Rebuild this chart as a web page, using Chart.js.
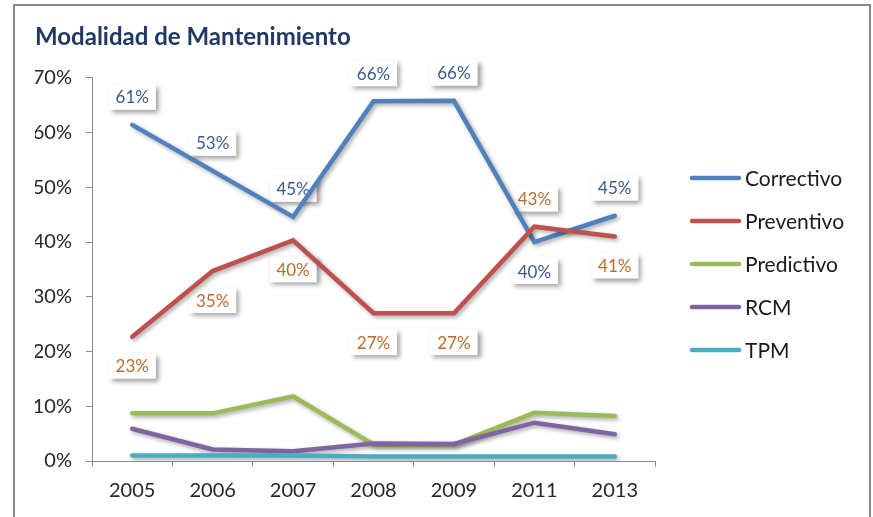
<!DOCTYPE html>
<html>
<head>
<meta charset="utf-8">
<script src="https://cdn.jsdelivr.net/npm/chart.js@4.4.1/dist/chart.umd.min.js"></script>
<style>
  body { margin: 0; background: #fff; }
  #chartBox { width: 873px; height: 517px; }
</style>
</head>
<body>
<div id="chartBox"><canvas id="mainChart" width="873" height="517"></canvas></div>
<script>
const years = ["2005", "2006", "2007", "2008", "2009", "2011", "2013"];

const correctivo = [61.4, 53.0, 44.6, 65.7, 65.8, 40.0, 44.8];
const preventivo = [22.7, 34.7, 40.3, 27.0, 27.0, 42.8, 41.0];
const predictivo = [8.7, 8.7, 11.8, 3.0, 3.0, 8.8, 8.2];
const rcm = [5.9, 2.1, 1.8, 3.2, 3.1, 7.0, 4.9];
const tpm = [1.0, 1.0, 1.0, 0.8, 0.8, 0.8, 0.8];

const seriesNames = ["Correctivo", "Preventivo", "Predictivo", "RCM", "TPM"];
const seriesValues = [correctivo, preventivo, predictivo, rcm, tpm];
const seriesColors = ['#4F81BD', '#C0504D', '#9BBB59', '#8064A2', '#4BACC6'];
const labelColors = ['#3A5A88', '#BB6A30']; // only the first two series get labels

const FONT = "Lato, 'Open Sans', sans-serif";

// outer frame like the excel chart border
const framePlugin = {
  id: 'frame',
  beforeDraw(chart) {
    const ctx = chart.ctx;
    ctx.save();
    ctx.fillStyle = '#fff';
    ctx.fillRect(0, 0, chart.width, chart.height);
    ctx.strokeStyle = '#8a8a8a';
    ctx.lineWidth = 2;
    ctx.strokeRect(14, 5, 856, 540);
    ctx.restore();
  }
};

// soft shadow under the lines
const lineShadow = {
  id: 'lineShadow',
  beforeDatasetDraw(chart) {
    const ctx = chart.ctx;
    ctx.save();
    ctx.shadowColor = 'rgba(0,0,0,0.35)';
    ctx.shadowBlur = 4;
    ctx.shadowOffsetX = 2;
    ctx.shadowOffsetY = 2;
  },
  afterDatasetDraw(chart) {
    chart.ctx.restore();
  }
};

// value labels in white boxes, drawn under the lines
const valueLabels = {
  id: 'valueLabels',
  beforeDatasetsDraw(chart) {
    const ctx = chart.ctx;
    ctx.save();
    ctx.font = "17px " + FONT;
    ctx.textAlign = 'center';
    ctx.textBaseline = 'middle';
    [0, 1].forEach(di => {
      const meta = chart.getDatasetMeta(di);
      const other = di === 0 ? 1 : 0;
      meta.data.forEach((pt, i) => {
        const v = seriesValues[di][i];
        const above = v >= seriesValues[other][i];
        const txt = Math.round(v) + '%';
        const cx = pt.x;
        const cy = above ? pt.y - 28 : pt.y + 29;
        const w = ctx.measureText(txt).width + 14;
        const h = 26;
        ctx.save();
        ctx.shadowColor = 'rgba(0,0,0,0.4)';
        ctx.shadowBlur = 5;
        ctx.shadowOffsetX = 3;
        ctx.shadowOffsetY = 3;
        ctx.fillStyle = '#fff';
        ctx.fillRect(cx - w / 2, cy - h / 2, w, h);
        ctx.restore();
        ctx.fillStyle = labelColors[di];
        ctx.fillText(txt, cx, cy + 1);
      });
    });
    ctx.restore();
  }
};

// legend on the right with line samples
const sideLegend = {
  id: 'sideLegend',
  afterDraw(chart) {
    const ctx = chart.ctx;
    const x0 = chart.chartArea.right + 37;
    const y0 = 178;
    ctx.save();
    ctx.font = "21px " + FONT;
    ctx.textBaseline = 'middle';
    ctx.textAlign = 'left';
    chart.data.datasets.forEach((ds, i) => {
      const y = y0 + i * 43;
      ctx.strokeStyle = ds.borderColor;
      ctx.lineWidth = 4.5;
      ctx.lineCap = 'round';
      ctx.beginPath();
      ctx.moveTo(x0, y);
      ctx.lineTo(x0 + 47, y);
      ctx.stroke();
      ctx.fillStyle = '#1a1a1a';
      ctx.fillText(ds.label, x0 + 53, y + 1);
    });
    ctx.restore();
  }
};

const datasets = seriesNames.map((name, i) => ({
  label: name,
  data: seriesValues[i],
  borderColor: seriesColors[i],
  backgroundColor: seriesColors[i],
  borderWidth: 4.5,
  borderCapStyle: 'round',
  pointRadius: 0,
  tension: 0,
  fill: false,
  order: seriesNames.length - i
}));

new Chart(document.getElementById("mainChart").getContext("2d"), {
  type: 'line',
  data: { labels: years, datasets: datasets },
  options: {
    responsive: false,
    maintainAspectRatio: false,
    animation: false,
    devicePixelRatio: 1,
    layout: { padding: { left: 35, right: 218, top: 0, bottom: 0 } },
    plugins: {
      legend: { display: false },
      tooltip: { enabled: false },
      title: {
        display: true,
        text: "Modalidad de Mantenimiento",
        align: 'start',
        color: '#1F3864',
        font: { family: FONT, size: 24, weight: 'bold' },
        padding: { top: 23, bottom: 26 }
      }
    },
    scales: {
      x: {
        offset: true,
        grid: { offset: true, drawOnChartArea: false, drawTicks: true, tickLength: 6, color: '#8a8a8a' },
        border: { display: true, color: '#8a8a8a', width: 1 },
        ticks: { color: '#262626', font: { family: FONT, size: 20 }, padding: 12, maxRotation: 0 },
        afterFit: scale => { scale.height = 56; }
      },
      y: {
        min: 0,
        max: 70,
        grid: { drawOnChartArea: false, drawTicks: true, tickLength: 6, color: '#8a8a8a' },
        border: { display: true, color: '#8a8a8a', width: 1 },
        ticks: {
          stepSize: 10,
          color: '#262626',
          font: { family: FONT, size: 20 },
          padding: 14,
          callback: v => v + '%'
        },
        afterFit: scale => { scale.width = 57; }
      }
    }
  },
  plugins: [framePlugin, lineShadow, valueLabels, sideLegend]
});
</script>
</body>
</html>
